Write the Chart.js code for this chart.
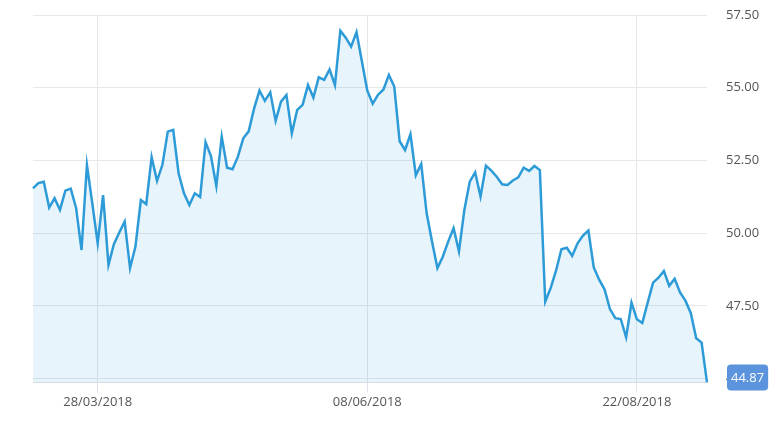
<!DOCTYPE html>
<html>
<head>
<meta charset="utf-8">
<script src="https://cdn.jsdelivr.net/npm/chart.js@4.4.0/dist/chart.umd.min.js"></script>
<style>
  html, body { margin: 0; padding: 0; background: #fff; }
  #wrap { width: 779px; height: 422px; }
</style>
</head>
<body>
<div id="wrap"><canvas id="priceChart"></canvas></div>
<script>
// closing prices, one per trading day
const prices = [
  51.54, 51.72, 51.77, 50.88, 51.20, 50.80, 51.46, 51.53, 50.86, 49.42,
  52.35, 51.02, 49.65, 51.31, 48.91, 49.62, 50.02, 50.40, 48.80, 49.54,
  51.14, 51.00, 52.61, 51.80, 52.35, 53.49, 53.55, 52.06, 51.37, 50.97,
  51.37, 51.24, 53.13, 52.65, 51.62, 53.32, 52.25, 52.20, 52.63, 53.26,
  53.50, 54.28, 54.90, 54.55, 54.84, 53.86, 54.52, 54.75, 53.43, 54.24,
  54.41, 55.09, 54.66, 55.36, 55.27, 55.63, 55.09, 56.96, 56.72, 56.41,
  56.91, 55.90, 54.90, 54.45, 54.76, 54.94, 55.44, 55.04, 53.16, 52.86,
  53.40, 51.99, 52.38, 50.69, 49.71, 48.80, 49.19, 49.71, 50.17, 49.37,
  50.80, 51.77, 52.09, 51.26, 52.32, 52.15, 51.94, 51.68, 51.66, 51.81,
  51.92, 52.25, 52.14, 52.31, 52.17, 47.65, 48.11, 48.71, 49.45, 49.50,
  49.22, 49.65, 49.92, 50.09, 48.82, 48.40, 48.07, 47.39, 47.08, 47.05,
  46.42, 47.61, 47.04, 46.91, 47.61, 48.30, 48.47, 48.70, 48.19, 48.43,
  47.96, 47.68, 47.25, 46.39, 46.24, 44.87
];
const startDate = '12/03/2018';
const holidays = ['30/03/2018', '02/04/2018', '04/07/2018', '06/08/2018', '15/08/2018'];
const tickDates = ['28/03/2018', '08/06/2018', '22/08/2018'];
const yTicks = [45, 47.5, 50, 52.5, 55, 57.5];

const FONT = '"Open Sans", "DejaVu Sans", sans-serif';

function fmtDate(d) {
  const dd = String(d.getUTCDate()).padStart(2, '0');
  const mm = String(d.getUTCMonth() + 1).padStart(2, '0');
  return `${dd}/${mm}/${d.getUTCFullYear()}`;
}

// weekdays from startDate, skipping market holidays
function tradingDays(start, count, skip) {
  const [d, m, y] = start.split('/').map(Number);
  const day = new Date(Date.UTC(y, m - 1, d));
  const out = [];
  while (out.length < count) {
    const wd = day.getUTCDay();
    const s = fmtDate(day);
    if (wd !== 0 && wd !== 6 && !skip.includes(s)) out.push(s);
    day.setUTCDate(day.getUTCDate() + 1);
  }
  return out;
}

const dates = tradingDays(startDate, prices.length, holidays);

const lastValueLabel = {
  id: 'lastValueLabel',
  afterDraw(chart) {
    const meta = chart.getDatasetMeta(0);
    const pt = meta.data[meta.data.length - 1];
    const yScale = chart.scales.y;
    const ctx = chart.ctx;
    const text = prices[prices.length - 1].toFixed(2);
    ctx.save();
    ctx.font = `13px ${FONT}`;
    const w = ctx.measureText(text).width + 8;
    const h = 26;
    const x = yScale.left + 20;
    const top = pt.y - 18;
    ctx.fillStyle = '#5b93dc';
    ctx.beginPath();
    ctx.roundRect(x, top, w, h, 4);
    ctx.fill();
    ctx.fillStyle = '#fff';
    ctx.textBaseline = 'middle';
    ctx.fillText(text, x + 4, top + h / 2 + 1);
    ctx.restore();
  }
};

new Chart(document.getElementById('priceChart'), {
  type: 'line',
  data: {
    labels: dates,
    datasets: [{
      data: prices,
      borderColor: '#2d9bd8',
      borderWidth: 2.5,
      backgroundColor: 'rgba(45, 155, 216, 0.11)',
      fill: 'start',
      pointRadius: 0,
      tension: 0
    }]
  },
  options: {
    responsive: true,
    maintainAspectRatio: false,
    animation: false,
    layout: { padding: { left: 33, top: 15, right: 0, bottom: 10 } },
    plugins: {
      legend: { display: false },
      tooltip: { enabled: false }
    },
    scales: {
      x: {
        type: 'category',
        afterBuildTicks: scale => {
          scale.ticks = scale.ticks.filter(t => tickDates.includes(dates[t.value]));
        },
        grid: { color: '#e6e6e6', tickLength: 10, tickColor: '#dde3ea' },
        border: { color: '#d6dde5' },
        ticks: {
          autoSkip: false,
          maxRotation: 0,
          padding: 2,
          color: '#555',
          font: { family: FONT, size: 13 }
        }
      },
      y: {
        position: 'right',
        min: 44.87,
        max: 57.5,
        afterBuildTicks: scale => {
          scale.ticks = yTicks.map(v => ({ value: v }));
        },
        // fixed axis width, and don't let the label padding push the plot down
        afterFit: scale => {
          scale.width = 72;
          scale.paddingTop = 8;
          scale.paddingBottom = 8;
        },
        grid: { color: '#e8e8e8', drawTicks: false },
        border: { display: false },
        ticks: {
          padding: 19,
          color: '#555',
          font: { family: FONT, size: 13 },
          callback: v => Number(v).toFixed(2)
        }
      }
    }
  },
  plugins: [lastValueLabel]
});
</script>
</body>
</html>
